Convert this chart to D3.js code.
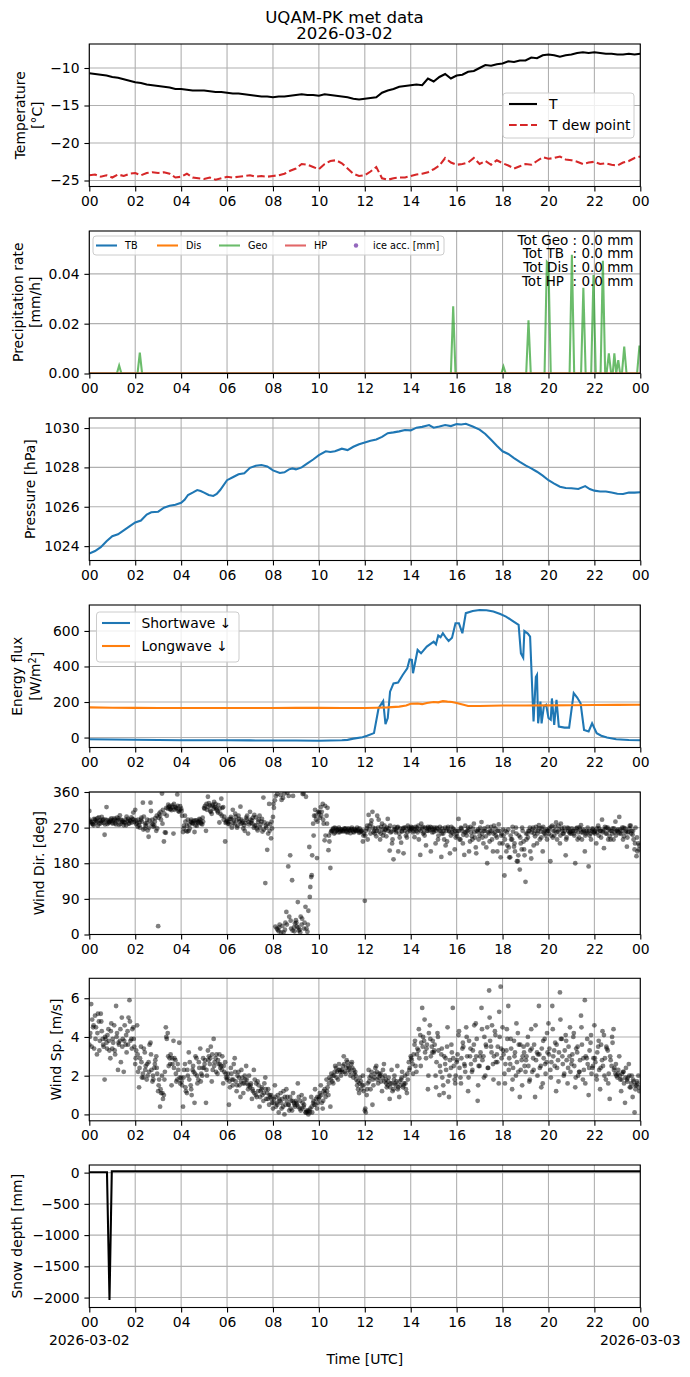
<!DOCTYPE html>
<html>
<head>
<meta charset="utf-8">
<script src="https://cdn.jsdelivr.net/npm/d3@7"></script>
<style>
  body { margin: 0; background: #fff; }
</style>
</head>
<body>
<div class="chart"></div>
<script>
// Day being plotted (UTC)
const START = Date.UTC(2026, 2, 2)
const hr = h => new Date(START + h * 3600e3)

// Temperature, every 15 min [°C]
const tempT = [
  -10.7, -10.8, -10.9, -11.0,  -11.2, -11.3, -11.5, -11.7,  -11.9, -12.0, -12.2, -12.3,
  -12.4, -12.5, -12.6, -12.8,  -12.8, -12.9, -13.0, -13.0,  -13.0, -13.1, -13.2, -13.2,
  -13.3, -13.4, -13.4, -13.5,  -13.6, -13.7, -13.8, -13.8,  -13.9, -13.8, -13.8, -13.7,
  -13.6, -13.5, -13.6, -13.6,  -13.7, -13.5, -13.6, -13.7,  -13.8, -13.9, -14.1, -14.2,
  -14.1, -14.0, -13.9, -13.3,  -13.0, -12.8, -12.5, -12.4,  -12.3, -12.2, -12.3, -11.4,
  -11.8, -11.2, -10.8, -11.4,  -11.0, -10.9, -10.5, -10.4,  -10.0, -9.6, -9.7, -9.5,
  -9.4, -9.1, -9.2, -9.0,  -9.0, -8.6, -8.7, -8.3,  -8.2, -8.3, -8.5, -8.3,
  -8.2, -8.0, -7.9, -8.0,  -7.9, -8.0, -8.1, -8.1,  -8.2, -8.2, -8.1, -8.2,
  -8.1
]
const tempTd = [
  -24.3, -24.2, -24.5, -24.3,  -24.6, -24.2, -24.4, -24.1,  -24.0, -24.3, -24.0, -23.9,
  -24.0, -23.9, -24.1, -24.6,  -24.5, -24.1, -24.6, -24.7,  -24.8, -24.6, -24.9, -24.7,
  -24.5, -24.6, -24.5, -24.4,  -24.3, -24.5, -24.4, -24.5,  -24.4, -24.3, -24.1, -23.7,
  -23.4, -22.8, -22.9, -23.2,  -23.5, -22.8, -22.4, -22.3,  -22.7, -23.4, -24.1, -24.4,
  -24.3, -23.8, -23.2, -24.7,  -24.9, -24.7, -24.6, -24.6,  -24.4, -24.2, -24.1, -23.9,
  -23.5, -23.0, -22.0, -22.6,  -22.9, -22.8, -22.6, -22.0,  -22.8, -22.4, -22.9, -22.3,
  -22.7, -23.0, -23.4, -23.1,  -22.8, -22.9, -22.4, -21.9,  -22.1, -22.0, -21.8, -22.2,
  -22.3, -22.5, -22.8, -22.6,  -22.5, -22.8, -22.7, -22.9,  -23.0, -22.6, -22.4, -22.0,
  -21.8
]

// Precipitation rate, Geonor [hour, mm/h]; TB, Dis, HP stay at zero
const precipGeo = [
  [0, 0], [1.2, 0], [1.3, 0.0032], [1.4, 0], [2.1, 0], [2.2, 0.0084], [2.3, 0],
  [15.75, 0], [15.85, 0.027], [15.95, 0], [17.95, 0], [18.04, 0.0028], [18.14, 0],
  [19.03, 0], [19.13, 0.0214], [19.23, 0], [19.83, 0], [19.93, 0.0448], [20.0, 0.044], [20.1, 0],
  [20.92, 0], [21.02, 0.0477], [21.12, 0], [21.42, 0], [21.52, 0.0344], [21.62, 0],
  [21.86, 0], [21.96, 0.0395], [22.06, 0], [22.27, 0], [22.37, 0.0452], [22.47, 0],
  [22.53, 0], [22.63, 0.0081], [22.73, 0], [22.8, 0], [22.87, 0.0081], [22.95, 0],
  [23.04, 0.0054], [23.12, 0], [23.2, 0], [23.3, 0.0108], [23.4, 0], [23.86, 0],
  [23.96, 0.0108], [24, 0.0108]
]
const precipTB = [[0, 0], [24, 0]]
const precipDis = [[0, 0], [24, 0]]
const precipHP = [[0, 0], [24, 0]]
const precipTotals = ["Tot Geo : 0.0 mm", "Tot TB  : 0.0 mm", "Tot Dis : 0.0 mm", "Tot HP  : 0.0 mm"]

// Pressure [hour, hPa]
const pressure = [
  [0, 1023.63], [0.25, 1023.75], [0.5, 1023.95], [0.75, 1024.25], [1, 1024.5], [1.25, 1024.6],
  [1.5, 1024.8], [1.75, 1025.0], [2, 1025.2], [2.25, 1025.3], [2.5, 1025.6], [2.7, 1025.72],
  [3, 1025.75], [3.25, 1025.95], [3.5, 1026.05], [3.75, 1026.1], [4, 1026.2], [4.15, 1026.35],
  [4.3, 1026.6], [4.5, 1026.72], [4.7, 1026.85], [4.85, 1026.8], [5, 1026.72], [5.2, 1026.6],
  [5.4, 1026.55], [5.55, 1026.65], [5.7, 1026.85], [6, 1027.35], [6.25, 1027.5], [6.5, 1027.65],
  [6.75, 1027.7], [7, 1027.98], [7.25, 1028.08], [7.5, 1028.12], [7.75, 1028.05], [8, 1027.85],
  [8.3, 1027.72], [8.5, 1027.75], [8.7, 1027.9], [8.85, 1027.95], [9, 1027.9], [9.25, 1028.0],
  [9.5, 1028.2], [9.75, 1028.4], [10, 1028.62], [10.3, 1028.82], [10.5, 1028.78], [10.7, 1028.82],
  [11, 1028.95], [11.25, 1028.88], [11.5, 1029.05], [11.75, 1029.18], [12, 1029.27], [12.25, 1029.35],
  [12.5, 1029.42], [12.75, 1029.55], [13, 1029.74], [13.25, 1029.78], [13.5, 1029.83], [13.75, 1029.9],
  [14, 1029.88], [14.25, 1030.02], [14.5, 1030.06], [14.8, 1030.15], [15, 1030.02], [15.25, 1030.08],
  [15.5, 1030.15], [15.75, 1030.1], [16, 1030.2], [16.2, 1030.18], [16.4, 1030.22], [16.7, 1030.08],
  [17, 1029.92], [17.25, 1029.7], [17.5, 1029.4], [17.75, 1029.1], [18, 1028.82], [18.25, 1028.68],
  [18.5, 1028.47], [18.75, 1028.28], [19, 1028.1], [19.25, 1027.95], [19.5, 1027.78], [19.75, 1027.58],
  [20, 1027.35], [20.25, 1027.18], [20.5, 1027.02], [20.75, 1026.95], [21, 1026.94], [21.3, 1026.9],
  [21.6, 1027.05], [21.8, 1026.9], [22, 1026.82], [22.25, 1026.78], [22.5, 1026.78], [22.75, 1026.72],
  [23, 1026.66], [23.25, 1026.65], [23.5, 1026.72], [23.75, 1026.72], [24, 1026.74]
]

// Radiation [hour, W/m2]
const shortwave = [
  [0, -10], [1, -11], [2, -12], [3, -14], [4, -15], [5, -15], [6, -15], [7, -16], [8, -17],
  [9, -17], [10, -18], [10.5, -17], [11, -15], [11.25, -13], [11.5, -6], [11.9, 2], [12.1, 10],
  [12.4, 25], [12.6, 165], [12.8, 205], [12.9, 75], [13.0, 110], [13.1, 258], [13.25, 305],
  [13.45, 310], [13.65, 352], [13.85, 390], [13.95, 440], [14.05, 437], [14.1, 362], [14.2, 427],
  [14.3, 493], [14.45, 474], [14.7, 512], [15.0, 540], [15.1, 525], [15.2, 574], [15.3, 565],
  [15.4, 587], [15.55, 559], [15.65, 544], [15.8, 562], [15.95, 643], [16.1, 643], [16.25, 587],
  [16.4, 700], [16.7, 712], [17.0, 718], [17.3, 716], [17.6, 709], [17.9, 695], [18.15, 681],
  [18.4, 660], [18.7, 634], [18.8, 474], [18.9, 450], [18.95, 600], [19.1, 585], [19.2, 568],
  [19.35, 90], [19.45, 340], [19.5, 352], [19.55, 80], [19.65, 202], [19.7, 80], [19.8, 175],
  [19.9, 184], [20.0, 110], [20.1, 100], [20.15, 220], [20.25, 71], [20.35, 212], [20.45, 62],
  [20.7, 56], [20.9, 56], [21.1, 250], [21.25, 225], [21.4, 193], [21.55, 43], [21.75, 34],
  [21.9, 80], [22.1, 24], [22.3, 10], [22.55, 0], [22.95, -10], [23.5, -14], [24, -15]
]
const longwave = [
  [0, 170], [1, 168], [2, 167], [3, 166], [4, 166], [5, 166], [6, 166], [7, 166], [8, 166],
  [9, 167], [10, 168], [11, 166], [12, 166], [12.5, 168], [13, 170], [13.5, 174], [13.8, 180],
  [14, 190], [14.3, 192], [14.5, 188], [14.7, 195], [15, 200], [15.2, 198], [15.4, 205],
  [15.6, 202], [15.8, 200], [16, 195], [16.3, 185], [16.5, 178], [17, 178], [18, 180],
  [19, 180], [20, 181], [21, 182], [22, 183], [23, 184], [24, 185]
]

// Wind direction [deg]: samples on the 5-min mark (one row per hour) ...
const windDir = [
  312, 284, 279, 291, 286, 296, 281, 288, 252, 322, 285, 290,
  283, 293, 278, 289, 301, 284, 276, 290, 287, 281, 296, 308,
  315, 282, 276, 290, 333, 268, 281, 247, 333, 290, 275, 262,
  21, 300, 356, 235, 257, 318, 325, 314, 255, 322, 354, 310,
  318, 259, 300, 275, 262, 285, 280, 259, 288, 282, 290, 278,
  320, 262, 348, 326, 305, 318, 330, 312, 283, 343, 322, 235,
  290, 284, 297, 315, 278, 288, 300, 323, 282, 276, 295, 255,
  310, 288, 270, 296, 263, 300, 285, 346, 130, 214, 330, 243,
  297, 339, 15, 8, 352, 22, 356, 57, 172, 200, 137, 18,
  36, 82, 12, 25, 356, 70, 7, 221, 145, 280, 315, 193,
  306, 322, 330, 238, 300, 213, 168, 262, 255, 268, 265, 259,
  265, 262, 268, 258, 264, 266, 260, 263, 270, 257, 262, 235,
  85, 268, 302, 255, 310, 262, 248, 270, 240, 280, 258, 265,
  292, 212, 260, 190, 265, 270, 255, 232, 268, 262, 245, 270,
  266, 270, 246, 262, 275, 201, 268, 258, 225, 272, 264, 270,
  259, 230, 268, 262, 196, 255, 270, 235, 262, 250, 268, 215,
  255, 292, 240, 262, 201, 258, 270, 235, 248, 280, 220, 260,
  250, 284, 230, 262, 180, 255, 272, 210, 258, 245, 278, 195,
  230, 149, 210, 265, 195, 240, 222, 270, 185, 164, 215, 235,
  133, 255, 262, 192, 270, 248, 230, 276, 260, 210, 255, 265,
  262, 185, 275, 250, 283, 260, 230, 268, 255, 200, 270, 258,
  255, 262, 180, 270, 245, 276, 258, 210, 262, 172, 255, 268,
  259, 230, 275, 262, 290, 218, 255, 270, 248, 262, 240, 285,
  262, 297, 255, 240, 268, 222, 260, 275, 252, 215, 198, 230
]
// ... the samples 1.25 min later ...
const windDirQuarter = [
  290, 283, 276, 288, 294, 280, 286, 291, 278, 289, 282, 287,
  280, 290, 286, 293, 279, 288, 284, 276, 292, 289, 283, 290,
  288, 272, 283, 295, 265, 280, 290, 270, 312, 278, 285, 300,
  295, 310, 280, 305, 320, 328, 316, 322, 330, 318, 325, 315,
  312, 268, 285, 260, 278, 290, 282, 288, 275, 286, 283, 295,
  318, 330, 322, 312, 325, 335, 320, 308, 318, 300, 290, 282,
  286, 278, 292, 282, 305, 270, 292, 280, 286, 262, 290, 284,
  290, 280, 302, 276, 285, 270, 292, 265, 275, 280, 262, 285,
  330, 20, 355, 18, 5, 345, 12, 25, 350, 35, 10, 8,
  30, 18, 5, 40, 15, 348, 25, 95, 150, 250, 300, 285,
  310, 300, 290, 325, 280, 250, 258, 265, 270, 262, 258, 266,
  263, 268, 259, 265, 262, 270, 258, 264, 262, 268, 260, 250,
  250, 275, 265, 280, 270, 255, 262, 290, 255, 265, 275, 248,
  262, 275, 230, 265, 258, 272, 245, 262, 205, 270, 258, 265,
  272, 258, 266, 270, 240, 262, 272, 250, 268, 262, 272, 258,
  270, 262, 240, 272, 255, 262, 225, 268, 260, 272, 255, 262,
  248, 262, 270, 230, 258, 250, 265, 272, 240, 258, 205, 265,
  270, 255, 262, 248, 272, 235, 262, 255, 268, 210, 262, 250,
  265, 240, 258, 220, 250, 272, 230, 255, 200, 245, 270, 215,
  255, 245, 270, 258, 225, 262, 255, 268, 245, 272, 262, 240,
  255, 272, 245, 262, 258, 275, 250, 262, 270, 240, 262, 255,
  268, 255, 262, 240, 270, 258, 265, 250, 258, 262, 240, 265,
  255, 268, 250, 262, 258, 265, 270, 240, 262, 255, 268, 250,
  265, 255, 262, 270, 258, 245, 268, 255, 262, 230, 245, 215
]
// ... and the samples 2.5 min later
const windDirHalf = [
  286, 279, 292, 283, 275, 288, 297, 282, 290, 279, 284, 293,
  288, 281, 295, 277, 290, 285, 282, 298, 280, 287, 292, 284,
  279, 290, 270, 285, 298, 275, 263, 288, 280, 272, 294, 268,
  305, 290, 315, 258, 300, 322, 318, 326, 315, 320, 312, 324,
  300, 275, 262, 290, 268, 283, 287, 276, 284, 292, 280, 285,
  325, 315, 332, 310, 328, 322, 316, 327, 305, 320, 298, 285,
  280, 292, 270, 288, 298, 275, 285, 290, 268, 282, 300, 278,
  282, 295, 275, 268, 290, 278, 260, 283, 270, 255, 278, 268,
  320, 350, 12, 25, 340, 5, 30, 358, 45, 15, 350, 28,
  20, 10, 45, 355, 30, 15, 60, 120, 200, 300, 290, 310,
  295, 310, 280, 250, 320, 235, 262, 268, 258, 264, 270, 262,
  260, 266, 262, 268, 256, 264, 267, 261, 265, 259, 263, 255,
  262, 240, 275, 288, 258, 268, 300, 260, 272, 250, 265, 270,
  268, 258, 240, 272, 262, 210, 268, 260, 270, 250, 275, 262,
  268, 262, 272, 258, 265, 280, 255, 270, 262, 268, 210, 265,
  265, 270, 250, 262, 268, 240, 262, 272, 205, 258, 265, 245,
  262, 240, 268, 252, 275, 262, 210, 258, 268, 245, 262, 240,
  262, 245, 268, 220, 258, 262, 240, 275, 250, 262, 230, 255,
  250, 262, 225, 195, 240, 260, 210, 185, 250, 230, 262, 200,
  240, 262, 210, 265, 255, 272, 262, 240, 268, 258, 250, 262,
  268, 250, 262, 272, 240, 265, 280, 255, 262, 245, 268, 260,
  262, 250, 268, 258, 265, 240, 262, 255, 270, 250, 262, 258,
  262, 258, 268, 245, 262, 272, 255, 265, 240, 268, 258, 262,
  258, 265, 270, 248, 262, 258, 275, 262, 240, 270, 210, 225
]

// Wind speed [m/s]: samples on the 5-min mark ...
const windSpd = [
  3.6, 5.7, 4.5, 5.1, 3.1, 4.8, 5.2, 3.9, 1.8, 3.7, 4.4, 2.9,
  3.4, 4.6, 5.6, 2.3, 3.8, 5.0, 2.2, 3.6, 4.3, 5.9, 3.9, 4.5,
  2.6, 4.6, 1.4, 3.5, 2.1, 3.2, 1.8, 2.7, 3.7, 1.7, 2.4, 3.0,
  1.2, 0.4, 2.0, 1.0, 4.5, 4.2, 2.9, 1.5, 3.8, 2.8, 1.8, 3.7,
  1.9, 0.4, 2.6, 1.1, 3.2, 1.5, 2.3, 0.6, 2.9, 1.8, 3.4, 2.0,
  2.4, 0.6, 3.3, 2.6, 1.7, 3.9, 2.9, 2.1, 3.1, 2.5, 1.6, 2.7,
  1.8, 0.5, 2.4, 1.5, 2.9, 1.2, 2.2, 0.9, 1.9, 1.6, 2.5, 1.3,
  1.4, 0.8, 2.3, 1.0, 1.7, 0.4, 1.3, 0.7, 1.9, 1.1, 0.5, 1.0,
  0.3, 1.5, 0.6, 0.1, 1.1, 0.8, 0.0, 1.3, 0.5, 0.9, 0.2, 0.6,
  0.7, 1.6, 0.3, 1.0, 0.4, 0.1, 0.1, 0.2, 0.9, 0.6, 1.3, 0.3,
  0.8, 1.5, 0.3, 1.3, 1.8, 1.0, 0.4, 1.7, 2.0, 2.4, 1.8, 2.3,
  2.3, 3.0, 2.1, 2.7, 2.4, 2.6, 1.9, 2.2, 1.5, 1.1, 1.7, 2.0,
  0.2, 1.0, 2.3, 1.3, 0.5, 1.9, 2.5, 1.6, 2.0, 1.2, 2.6, 1.8,
  1.5, 0.8, 2.3, 1.3, 1.6, 2.5, 0.9, 1.8, 1.4, 2.0, 1.1, 2.7,
  3.0, 2.6, 3.6, 2.2, 3.3, 4.1, 5.5, 3.8, 2.9, 1.3, 4.6, 3.5,
  3.2, 2.0, 4.2, 1.0, 3.1, 1.5, 2.6, 3.5, 0.9, 2.4, 5.5, 1.8,
  2.7, 4.1, 1.9, 3.4, 2.6, 4.5, 1.2, 3.0, 2.2, 3.6, 4.7, 0.7,
  2.5, 5.5, 3.0, 2.0, 4.5, 6.4, 3.5, 2.6, 4.3, 3.1, 1.6, 6.6,
  4.5, 2.1, 3.3, 5.6, 2.6, 1.3, 3.8, 2.0, 4.2, 0.9, 2.8, 3.5,
  2.2, 3.6, 1.7, 4.4, 2.9, 0.9, 3.2, 5.6, 2.5, 1.6, 3.9, 2.7,
  4.7, 2.3, 5.6, 3.3, 1.2, 2.8, 6.3, 3.9, 2.0, 4.1, 1.6, 3.0,
  2.6, 4.0, 1.4, 3.2, 2.2, 5.1, 1.8, 5.9, 2.9, 1.0, 3.7, 2.4,
  4.6, 2.0, 3.5, 1.3, 2.8, 4.1, 1.8, 3.3, 0.8, 2.5, 4.4, 2.1,
  1.9, 3.0, 1.2, 2.2, 0.6, 1.8, 2.6, 1.4, 0.9, 0.1, 1.5, 2.0
]
// ... the samples 1.25 min later ...
const windSpdQuarter = [
  4.0, 3.5, 4.6, 3.9, 4.2, 3.3, 4.8, 3.6, 4.0, 3.4, 3.8, 4.3,
  3.9, 3.3, 4.0, 3.7, 4.4, 3.5, 3.8, 4.1, 3.6, 4.8, 3.4, 3.9,
  2.9, 3.1, 2.4, 2.7, 1.9, 2.3, 2.6, 2.2, 3.1, 2.0, 2.6, 2.4,
  1.5, 1.3, 1.1, 1.8, 4.0, 3.0, 2.6, 2.9, 2.4, 2.1, 2.6, 1.9,
  1.7, 1.9, 1.4, 2.3, 1.8, 1.3, 2.5, 2.1, 2.0, 2.7, 1.7, 2.4,
  2.6, 2.3, 2.8, 2.9, 3.1, 2.5, 2.2, 2.8, 2.6, 2.3, 2.5, 2.1,
  1.9, 1.7, 2.1, 1.8, 2.2, 1.5, 1.9, 1.7, 1.6, 2.0, 1.8, 1.5,
  1.5, 1.3, 1.1, 1.6, 1.2, 0.9, 1.4, 1.1, 1.3, 0.8, 1.0, 0.8,
  0.6, 0.9, 0.5, 0.8, 0.6, 0.4, 0.9, 0.7, 0.5, 0.3, 0.7, 0.5,
  0.6, 0.4, 0.7, 0.3, 0.5, 0.1, 0.2, 0.1, 0.4, 0.7, 0.5, 0.9,
  0.9, 1.0, 0.7, 1.1, 1.2, 1.6, 1.8, 2.0, 2.2, 1.9, 2.3, 2.2,
  2.2, 2.6, 2.4, 2.5, 2.2, 2.7, 2.3, 2.0, 1.7, 1.6, 1.3, 1.5,
  0.3, 1.3, 1.7, 2.0, 1.8, 2.1, 2.2, 1.9, 2.1, 1.9, 1.7, 1.6,
  1.7, 1.4, 1.6, 1.8, 1.5, 1.3, 1.7, 1.9, 1.5, 1.6, 2.1, 2.3,
  2.9, 2.1, 3.8, 3.1, 4.4, 2.5, 3.5, 4.9, 3.4, 2.0, 3.9, 3.2,
  3.3, 1.4, 4.0, 2.5, 3.4, 1.1, 2.9, 4.5, 2.0, 3.6, 2.9, 1.6,
  2.8, 4.3, 1.6, 3.7, 2.5, 4.0, 1.9, 3.4, 2.3, 4.6, 3.0, 1.5,
  3.0, 4.4, 1.9, 3.6, 2.4, 5.0, 3.2, 1.8, 4.1, 2.7, 5.3, 3.4,
  3.3, 1.6, 4.4, 2.3, 3.9, 1.8, 3.0, 4.7, 2.2, 3.6, 1.5, 3.2,
  2.8, 4.0, 1.8, 3.4, 2.3, 4.6, 2.0, 3.1, 1.4, 3.8, 2.6, 4.2,
  3.1, 1.9, 4.4, 2.5, 3.6, 1.7, 4.9, 3.0, 2.1, 3.8, 2.4, 4.5,
  2.8, 4.2, 1.9, 3.5, 2.2, 4.5, 2.9, 1.6, 3.9, 2.4, 4.1, 2.5,
  2.9, 1.8, 3.8, 2.4, 4.3, 2.0, 3.5, 1.6, 3.0, 4.0, 2.3, 2.6,
  2.1, 2.0, 1.8, 2.2, 1.9, 1.7, 2.0, 1.6, 1.8, 1.5, 1.7, 1.4
]
// ... and the samples 2.5 min later
const windSpdHalf = [
  4.2, 4.9, 3.4, 4.5, 5.2, 3.8, 4.3, 3.5, 3.9, 4.1, 3.3, 4.7,
  3.7, 3.1, 4.2, 3.6, 2.7, 3.9, 4.6, 3.2, 5.0, 3.8, 4.4, 3.5,
  3.3, 2.2, 2.9, 1.9, 3.4, 2.5, 2.0, 3.6, 2.3, 1.8, 2.8, 2.1,
  1.8, 1.1, 0.8, 2.2, 3.9, 2.5, 3.1, 2.6, 2.9, 1.7, 2.3, 1.6,
  1.5, 2.3, 1.2, 2.0, 2.7, 1.0, 2.2, 3.0, 1.6, 2.4, 2.1, 2.9,
  2.8, 2.0, 3.0, 3.5, 2.3, 2.7, 3.1, 2.6, 2.4, 3.0, 2.2, 1.9,
  2.1, 1.4, 1.8, 2.6, 1.7, 2.0, 1.5, 2.3, 1.1, 1.8, 1.6, 2.0,
  1.6, 1.2, 1.8, 0.9, 1.5, 1.2, 1.0, 1.6, 0.8, 1.3, 0.9, 0.6,
  0.8, 0.4, 1.0, 0.7, 0.3, 1.2, 0.5, 0.9, 0.2, 0.7, 1.1, 0.4,
  0.5, 0.9, 0.2, 0.6, 0.8, 0.2, 0.0, 0.3, 0.1, 0.5, 0.8, 0.6,
  1.1, 0.6, 1.2, 0.9, 1.4, 1.9, 2.1, 1.6, 2.5, 2.2, 2.6, 2.0,
  2.5, 2.2, 2.8, 2.3, 2.0, 2.4, 2.1, 1.8, 1.3, 1.9, 1.5, 1.2,
  0.1, 1.6, 1.9, 2.2, 1.5, 2.4, 1.8, 2.1, 1.7, 2.3, 2.0, 1.4,
  1.9, 1.6, 1.2, 2.0, 1.7, 1.4, 1.5, 2.2, 1.6, 1.3, 1.8, 2.4,
  2.8, 3.1, 2.5, 3.4, 2.9, 3.7, 4.0, 3.2, 3.6, 4.2, 3.0, 3.8,
  3.6, 2.7, 3.3, 2.2, 1.9, 3.0, 2.3, 1.7, 2.8, 3.2, 2.5, 2.0,
  3.1, 2.4, 2.9, 3.5, 2.2, 3.0, 3.8, 2.6, 3.3, 2.8, 3.9, 2.5,
  3.2, 2.8, 4.0, 3.5, 2.4, 3.8, 4.6, 3.0, 2.7, 3.5, 4.0, 2.9,
  3.1, 2.6, 3.9, 2.9, 3.4, 2.4, 3.2, 2.7, 3.6, 2.3, 3.0, 2.5,
  3.0, 2.5, 3.3, 2.2, 3.6, 2.8, 3.1, 2.4, 3.4, 2.9, 2.1, 3.2,
  3.4, 2.7, 3.0, 3.7, 2.4, 3.2, 3.9, 2.6, 3.3, 2.8, 3.5, 2.2,
  3.1, 2.5, 3.4, 2.0, 2.8, 3.6, 2.3, 3.0, 2.6, 3.3, 2.1, 2.9,
  2.7, 3.2, 2.3, 3.6, 2.5, 2.9, 3.4, 2.1, 2.8, 3.7, 2.4, 2.0,
  2.3, 1.8, 2.1, 1.6, 2.4, 1.9, 1.4, 2.0, 1.7, 1.3, 1.6, 1.2
]

// Snow depth [hour, mm]
const snowDepth = [[0, 5], [0.77, 5], [0.88, -2040], [0.98, 22], [24, 22]]

// Tick values
const tickTemp = [-25, -20, -15, -10]
const tickPrecip = [0, 0.02, 0.04]
const tickPres = [1024, 1026, 1028, 1030]
const tickFlux = [0, 200, 400, 600]
const tickDir = [0, 90, 180, 270, 360]
const tickSpd = [0, 2, 4, 6]
const tickSnow = [-2000, -1500, -1000, -500, 0]

// Layout
const W = 690, H = 1377
const X0 = 89.3, X1 = 640.3
const tops = [44, 231, 418, 605, 792, 978.3, 1165]
const PH = 142.5
const FONT = '"DejaVu Sans", sans-serif'
const FS = 13.9

const quarterHours = d3.range(0, 24.001, 0.25)
const fiveMin = d3.range(0, 288).map(i => i / 12)

const x = d3.scaleUtc().domain([hr(0), hr(24)]).range([X0, X1])
const xTicks = d3.range(0, 25, 2).map(hr)

const svg = d3.select(".chart").append("svg")
    .attr("width", W)
    .attr("height", H)
    .attr("viewBox", [0, 0, W, H])
    .style("font-family", FONT)

svg.append("rect").attr("width", W).attr("height", H).attr("fill", "#fff")

// Title (two lines, figure-centred)
svg.append("text").attr("x", 344.5).attr("y", 22.7).attr("text-anchor", "middle")
    .attr("font-size", 16.6).text("UQAM-PK met data")
svg.append("text").attr("x", 344.5).attr("y", 39.3).attr("text-anchor", "middle")
    .attr("font-size", 16.6).text("2026-03-02")

function makePanel(i, domain, ticks, fmt) {
    const top = tops[i], bottom = top + PH
    const y = d3.scaleLinear().domain(domain).range([bottom, top])
    const g = svg.append("g")

    // grid
    const grid = g.append("g").attr("stroke", "#b0b0b0").attr("stroke-width", 1.1)
    grid.selectAll("line.gx").data(xTicks).join("line")
        .attr("x1", d => x(d)).attr("x2", d => x(d))
        .attr("y1", top).attr("y2", bottom)
    grid.selectAll("line.gy").data(ticks).join("line")
        .attr("x1", X0).attr("x2", X1)
        .attr("y1", d => y(d)).attr("y2", d => y(d))

    svg.append("clipPath").attr("id", `clip${i}`)
        .append("rect").attr("x", X0).attr("y", top).attr("width", X1 - X0).attr("height", PH)
    const plot = g.append("g").attr("clip-path", `url(#clip${i})`)

    const xa = g.append("g").attr("transform", `translate(0,${bottom})`)
        .call(d3.axisBottom(x).tickValues(xTicks).tickFormat(d3.utcFormat("%H"))
            .tickSize(4.9).tickPadding(4.9))
    const ya = g.append("g").attr("transform", `translate(${X0},0)`)
        .call(d3.axisLeft(y).tickValues(ticks).tickFormat(fmt)
            .tickSize(4.9).tickPadding(4.9))
    for (const a of [xa, ya]) {
        a.attr("font-size", FS).attr("font-family", FONT)
        a.select(".domain").remove()
        a.selectAll(".tick line").attr("stroke", "#000").attr("stroke-width", 1.1)
        a.selectAll(".tick text").attr("fill", "#000")
    }

    g.append("rect").attr("x", X0).attr("y", top).attr("width", X1 - X0).attr("height", PH)
        .attr("fill", "none").attr("stroke", "#000").attr("stroke-width", 1.1)

    return {y, plot, g, top, bottom}
}

function yLabel(i, parts) {
    const cy = tops[i] + PH / 2
    parts.forEach(([cx, txt]) => {
        const t = svg.append("text")
            .attr("transform", `translate(${cx},${cy}) rotate(-90)`)
            .attr("text-anchor", "middle").attr("dy", "0.35em")
            .attr("font-size", FS)
        if (typeof txt === "string") t.text(txt)
        else txt(t)
    })
}

function legendFrame(x0, y0, w, h) {
    svg.append("rect").attr("x", x0).attr("y", y0).attr("width", w).attr("height", h)
        .attr("rx", 3).attr("fill", "#fff").attr("fill-opacity", 0.8)
        .attr("stroke", "#cccccc").attr("stroke-width", 1)
}

const lineOf = (y) => d3.line().x(d => x(hr(d[0]))).y(d => y(d[1]))
const LW = 2.08

function scatter(p, vals, offsetH) {
    p.plot.append("g").selectAll("circle")
        .data(fiveMin.map((h, k) => [h + offsetH, vals[k]]))
        .join("circle")
        .attr("cx", d => x(hr(d[0]))).attr("cy", d => p.y(d[1])).attr("r", 2.4)
        .attr("fill", "#000").attr("fill-opacity", 0.5)
}

// ---- 1. Temperature
const p1 = makePanel(0, [-25.8, -6.8], tickTemp, d3.format("d"))
p1.plot.append("path").datum(quarterHours.map((h, k) => [h, tempT[k]]))
    .attr("d", lineOf(p1.y)).attr("fill", "none").attr("stroke", "#000").attr("stroke-width", LW)
p1.plot.append("path").datum(quarterHours.map((h, k) => [h, tempTd[k]]))
    .attr("d", lineOf(p1.y)).attr("fill", "none").attr("stroke", "#d62728")
    .attr("stroke-width", LW).attr("stroke-dasharray", "7.7,3.3")
yLabel(0, [[20, "Temperature"], [37, "[°C]"]])
legendFrame(503, 93, 131, 45)
;[["T", "#000", null, 104], ["T dew point", "#d62728", "7.7,3.3", 125]].forEach(([lab, c, dash, yy]) => {
    svg.append("line").attr("x1", 509).attr("x2", 537).attr("y1", yy).attr("y2", yy)
        .attr("stroke", c).attr("stroke-width", LW).attr("stroke-dasharray", dash)
    svg.append("text").attr("x", 549).attr("y", yy + 5).attr("font-size", FS).text(lab)
})

// ---- 2. Precipitation
const p2 = makePanel(1, [0, 0.0572], tickPrecip, d3.format(".2f"))
const precipSeries = [
    [precipTB, "#1f77b4", 1], [precipDis, "#ff7f0e", 1],
    [precipGeo, "#2ca02c", 0.7], [precipHP, "#d62728", 0.7]
]
precipSeries.forEach(([data, c, op]) => {
    p2.plot.append("path").datum(data).attr("d", lineOf(p2.y))
        .attr("fill", "none").attr("stroke", c).attr("stroke-opacity", op).attr("stroke-width", LW)
})
yLabel(1, [[18, "Precipitation rate"], [35, "[mm/h]"]])
legendFrame(93, 236, 351, 19)
const smallFS = 9.7
;[["TB", "#1f77b4", 1, 96], ["Dis", "#ff7f0e", 1, 157], ["Geo", "#2ca02c", 0.7, 219], ["HP", "#d62728", 0.7, 285]]
    .forEach(([lab, c, op, lx]) => {
        svg.append("line").attr("x1", lx).attr("x2", lx + 21).attr("y1", 245.5).attr("y2", 245.5)
            .attr("stroke", c).attr("stroke-opacity", op).attr("stroke-width", LW)
        svg.append("text").attr("x", lx + 29).attr("y", 249).attr("font-size", smallFS).text(lab)
    })
svg.append("circle").attr("cx", 356).attr("cy", 245.5).attr("r", 2.2).attr("fill", "#9467bd")
svg.append("text").attr("x", 373).attr("y", 249).attr("font-size", smallFS).text("ice acc. [mm]")
precipTotals.forEach((s, k) => {
    svg.append("text").attr("x", 633.5).attr("y", 244.5 + k * 13.7)
        .attr("text-anchor", "end").attr("font-size", 13.5)
        .attr("xml:space", "preserve").style("white-space", "pre").text(s)
})

// ---- 3. Pressure
const p3 = makePanel(2, [1023.27, 1030.51], tickPres, d3.format("d"))
p3.plot.append("path").datum(pressure).attr("d", lineOf(p3.y))
    .attr("fill", "none").attr("stroke", "#1f77b4").attr("stroke-width", LW)
yLabel(2, [[30, "Pressure [hPa]"]])

// ---- 4. Energy flux
const p4 = makePanel(3, [-56, 746], tickFlux, d3.format("d"))
p4.plot.append("path").datum(shortwave).attr("d", lineOf(p4.y))
    .attr("fill", "none").attr("stroke", "#1f77b4").attr("stroke-width", LW)
p4.plot.append("path").datum(longwave).attr("d", lineOf(p4.y))
    .attr("fill", "none").attr("stroke", "#ff7f0e").attr("stroke-width", LW)
yLabel(3, [[17, "Energy flux"], [35, t => {
    t.append("tspan").text("[W/m")
    t.append("tspan").attr("dy", "-0.45em").attr("font-size", FS * 0.7).text("2")
    t.append("tspan").attr("dy", "0.45em").text("]")
}]])
legendFrame(96.5, 612, 142.5, 50)
;[["Shortwave \u2193", "#1f77b4", 623], ["Longwave \u2193", "#ff7f0e", 646]].forEach(([lab, c, yy]) => {
    svg.append("line").attr("x1", 102).attr("x2", 130).attr("y1", yy).attr("y2", yy)
        .attr("stroke", c).attr("stroke-width", LW)
    svg.append("text").attr("x", 141.5).attr("y", yy + 5).attr("font-size", FS)
        .attr("xml:space", "preserve").style("white-space", "pre").text(lab)
})

// ---- 5. Wind direction
const p5 = makePanel(4, [0, 360], tickDir, d3.format("d"))
scatter(p5, windDir, 0)
scatter(p5, windDirQuarter, 1.25 / 60)
scatter(p5, windDirHalf, 2.5 / 60)
yLabel(4, [[39, "Wind Dir. [deg]"]])

// ---- 6. Wind speed
const p6 = makePanel(5, [-0.33, 7.03], tickSpd, d3.format("d"))
scatter(p6, windSpd, 0)
scatter(p6, windSpdQuarter, 1.25 / 60)
scatter(p6, windSpdHalf, 2.5 / 60)
yLabel(5, [[56, "Wind Sp. [m/s]"]])

// ---- 7. Snow depth
const p7 = makePanel(6, [-2159, 122], tickSnow, d3.format("d"))
p7.plot.append("path").datum(snowDepth).attr("d", lineOf(p7.y))
    .attr("fill", "none").attr("stroke", "#000").attr("stroke-width", LW)
yLabel(6, [[17, "Snow depth [mm]"]])

// date under the first and last tick of the bottom axis
;[[hr(0), "2026-03-02"], [hr(24), "2026-03-03"]].forEach(([d, s]) => {
    svg.append("text").attr("x", x(d)).attr("y", p7.bottom + 37)
        .attr("text-anchor", "middle").attr("font-size", FS).text(s)
})
svg.append("text").attr("x", (X0 + X1) / 2).attr("y", 1364)
    .attr("text-anchor", "middle").attr("font-size", FS).text("Time [UTC]")
</script>
</body>
</html>
